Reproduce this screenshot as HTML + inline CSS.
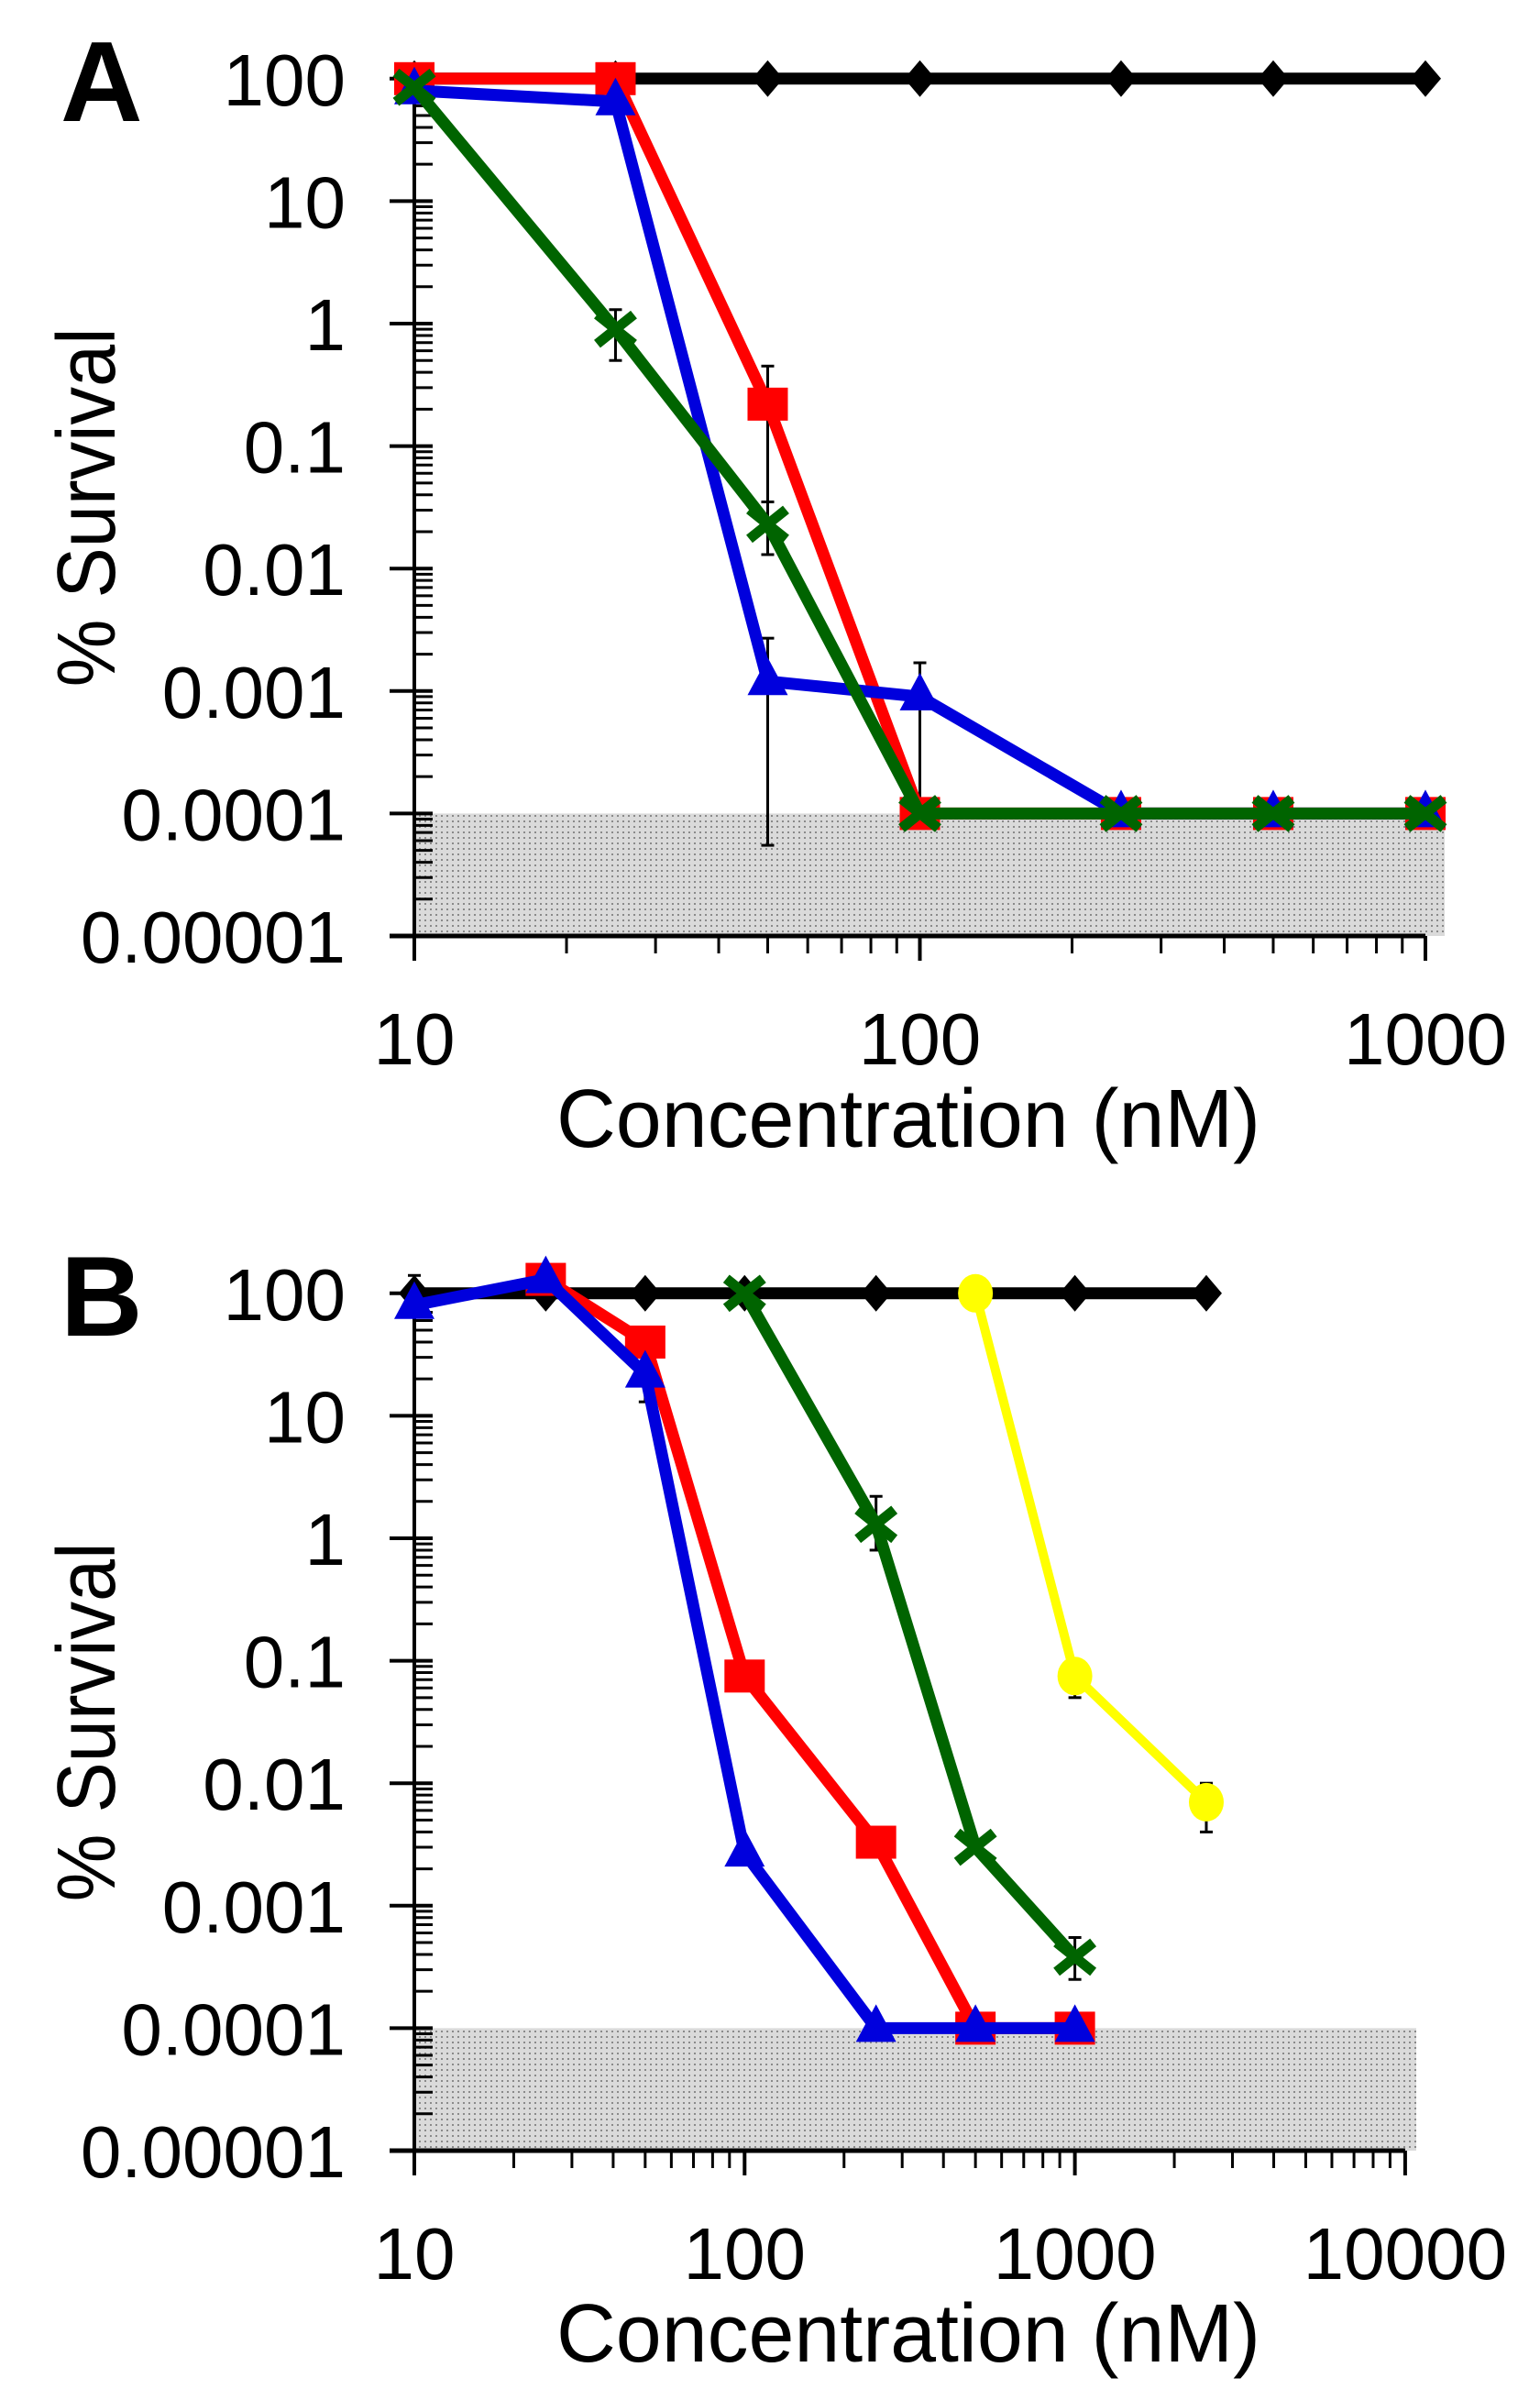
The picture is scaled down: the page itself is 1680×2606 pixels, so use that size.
<!DOCTYPE html>
<html><head><meta charset="utf-8"><title>Survival vs concentration</title>
<style>html,body{margin:0;padding:0;background:#fff}svg{display:block}</style></head>
<body>
<svg id="chart" width="1680" height="2606" viewBox="0 0 1680 2606" xmlns="http://www.w3.org/2000/svg" font-family="'Liberation Sans', sans-serif">
<defs>
<pattern id="dots" width="6" height="6" patternUnits="userSpaceOnUse">
<rect width="6" height="6" fill="#dadada"/><rect x="1" y="1" width="2" height="2" fill="#8a8a8a"/>
</pattern>
</defs>
</svg>
<script>
// ---- shared tick labels ----
const yTickVals = [100, 10, 1, 0.1, 0.01, 0.001, 0.0001, 0.00001];
const yTickLabels = ["100", "10", "1", "0.1", "0.01", "0.001", "0.0001", "0.00001"];
// ---- panel A data ----
const xA = [10, 25, 50, 100, 250, 500, 1000];
const xTickValsA = [10, 100, 1000];
const xTickLabelsA = ["10", "100", "1000"];
const blackA = [100, 100, 100, 100, 100, 100, 100];
const redA = [100, 100, 0.22, 0.0001, 0.0001, 0.0001, 0.0001];
const blueA = [80, 65, 0.0012, 0.0009, 0.0001, 0.0001, 0.0001];
const greenA = [85, 0.9, 0.023, 0.0001, 0.0001, 0.0001, 0.0001];
const errA = [ // [series, x, low, high]
  ["green", 25, 0.5, 1.3], ["red", 50, 0.035, 0.45], ["green", 50, 0.013, 0.035],
  ["blue", 50, 0.000055, 0.0027], ["blue", 100, 0.0001, 0.0017]];
// ---- panel B data ----
const xB = [10, 25, 50, 100, 250, 500, 1000, 2500];
const xTickValsB = [10, 100, 1000, 10000];
const xTickLabelsB = ["10", "100", "1000", "10000"];
const blackB = [100, 100, 100, 100, 100, 100, 100, 100];
const redB = [null, 130, 40, 0.075, 0.0033, 0.0001, 0.0001, null];
const blueB = [80, 130, 22, 0.0027, 0.0001, 0.0001, 0.0001, null];
const greenB = [null, null, null, 100, 1.3, 0.003, 0.00038, null];
const yellowB = [null, null, null, null, null, 100, 0.075, 0.007];
const errB = [
  ["black", 10, 100, 140], ["blue", 50, 13, 30], ["green", 250, 0.8, 2.2],
  ["green", 1000, 0.00025, 0.00055], ["yellow", 1000, 0.05, 0.1], ["yellow", 2500, 0.004, 0.01]];

const NS = "http://www.w3.org/2000/svg";
const svg = document.getElementById('chart');
function mk(tag, attrs, parent) {
  const e = document.createElementNS(NS, tag);
  for (const k in attrs) e.setAttribute(k, attrs[k]);
  (parent || svg).appendChild(e);
  return e;
}
const colors = {black: "#000", red: "#ff0000", blue: "#0000dd", green: "#006400", yellow: "#ffff00"};

function panel(cfg) {
  const g = mk('g', {});
  
  
  const X = v => cfg.x0 + Math.log10(v / cfg.xmin) * cfg.xdec;
  const Y = v => cfg.y0 - Math.log10(v / 0.00001) * 133.6;
  const sh = mk('rect', {x: cfg.x0, y: Y(0.0001), width: cfg.shadeR - cfg.x0, height: Y(0.00001) - Y(0.0001), fill: "url(#dots)"}, g);
  
  
  for (let d = 0; d < 7; d++) {
    const base = 0.00001 * Math.pow(10, d);
    for (let m = 2; m <= 9; m++) {
      const yy = Y(base * m);
      mk('line', {x1: cfg.x0, x2: cfg.x0 + 20, y1: yy, y2: yy, stroke: "#000", "stroke-width": 3}, g);
    }
  }
  yTickVals.forEach((v, i) => {
    mk('line', {x1: cfg.x0 - 27, x2: cfg.x0 + 20, y1: Y(v), y2: Y(v), stroke: "#000", "stroke-width": 4}, g);
    const t = mk('text', {x: 377, y: Y(v) + 29, "text-anchor": "end", "font-size": 80, fill: "#000"}, g);
    t.textContent = yTickLabels[i];
    
    
  });
  const ndec = Math.round(Math.log10(cfg.xmax / cfg.xmin));
  for (let d = 0; d < ndec; d++) {
    const base = cfg.xmin * Math.pow(10, d);
    for (let m = 2; m <= 9; m++) {
      const xx = X(base * m);
      mk('line', {x1: xx, x2: xx, y1: cfg.y0, y2: cfg.y0 + 19, stroke: "#000", "stroke-width": 3}, g);
    }
  }
  cfg.xt.forEach((v, i) => {
    mk('line', {x1: X(v), x2: X(v), y1: cfg.y0, y2: cfg.y0 + 27, stroke: "#000", "stroke-width": 4}, g);
    const t = mk('text', {x: X(v), y: cfg.y0 + 140, "text-anchor": "middle", "font-size": 80, fill: "#000"}, g);
    t.textContent = cfg.xtl[i];
    
    
  });
  mk('line', {x1: cfg.x0, x2: cfg.x0, y1: Y(100) - 8, y2: cfg.y0 + 27, stroke: "#000", "stroke-width": 4}, g);
  mk('line', {x1: cfg.x0 - 27, x2: X(cfg.xmax), y1: cfg.y0, y2: cfg.y0, stroke: "#000", "stroke-width": 5}, g);
  const xt = mk('text', {x: 991, y: cfg.y0 + 230, "text-anchor": "middle", "font-size": 90, textLength: 768, lengthAdjust: "spacingAndGlyphs"}, g);
  xt.textContent = "Concentration (nM)";
  
  
  const yc = (Y(100) + Y(0.00001)) / 2;
  const yt = mk('text', {x: 0, y: 0, "text-anchor": "middle", "font-size": 90, textLength: 392, lengthAdjust: "spacingAndGlyphs", transform: `translate(125 ${yc}) rotate(-90)`}, g);
  yt.textContent = "% Survival";
  
  
  const pl = mk('text', {x: 66, y: Y(100) + 46, "font-size": 124, "font-weight": "bold"}, g);
  pl.textContent = cfg.label;
  
  
  cfg.err.forEach(e => {
    const xx = X(e[1]);
    const eb = mk('g', {stroke: "#000", "stroke-width": 3}, g);
    
    
    mk('line', {x1: xx, x2: xx, y1: Y(e[2]), y2: Y(e[3])}, eb);
    mk('line', {x1: xx - 7, x2: xx + 7, y1: Y(e[2]), y2: Y(e[2])}, eb);
    mk('line', {x1: xx - 7, x2: xx + 7, y1: Y(e[3]), y2: Y(e[3])}, eb);
  });
  cfg.series.forEach(s => {
    const sg = mk('g', {}, g);
    
    
    const pts = [];
    s.vals.forEach((v, i) => { if (v != null) pts.push([X(cfg.xs[i]), Y(v)]); });
    mk('polyline', {points: pts.map(p => p.join(',')).join(' '), fill: "none", stroke: colors[s.name], "stroke-width": s.name === 'yellow' ? 10 : 13, "stroke-linejoin": "round"}, sg);
    pts.forEach(p => {
      const [px, py] = p;
      let m;
      if (s.marker === 'diamond') m = mk('polygon', {points: `${px},${py-20} ${px+17},${py} ${px},${py+20} ${px-17},${py}`, fill: "#000"}, sg);
      else if (s.marker === 'square') m = mk('rect', {x: px - 22, y: py - 18, width: 44, height: 36, fill: "#ff0000"}, sg);
      else if (s.marker === 'triangle') m = mk('polygon', {points: `${px},${py-26} ${px+22},${py+15} ${px-22},${py+15}`, fill: "#0000dd"}, sg);
      else if (s.marker === 'x') m = mk('path', {d: `M${px-20},${py-16}L${px+20},${py+16}M${px-20},${py+16}L${px+20},${py-16}`, stroke: "#006400", "stroke-width": 11, fill: "none"}, sg);
      else m = mk('ellipse', {cx: px, cy: py, rx: 19, ry: 21, fill: "#ffff00"}, sg);
      
      
    });
  });
}

panel({name: 'panel-a', label: 'A', x0: 452, y0: 1021, xmin: 10, xmax: 1000, xdec: 551.5, shadeR: 1576,
  xt: xTickValsA, xtl: xTickLabelsA, xs: xA, err: errA,
  series: [{name: 'black', vals: blackA, marker: 'diamond'}, {name: 'red', vals: redA, marker: 'square'},
           {name: 'blue', vals: blueA, marker: 'triangle'}, {name: 'green', vals: greenA, marker: 'x'}]});
panel({name: 'panel-b', label: 'B', x0: 452, y0: 2346, xmin: 10, xmax: 10000, xdec: 360.3, shadeR: 1545,
  xt: xTickValsB, xtl: xTickLabelsB, xs: xB, err: errB,
  series: [{name: 'black', vals: blackB, marker: 'diamond'}, {name: 'red', vals: redB, marker: 'square'},
           {name: 'blue', vals: blueB, marker: 'triangle'}, {name: 'green', vals: greenB, marker: 'x'},
           {name: 'yellow', vals: yellowB, marker: 'circle'}]});
</script>
</body></html>
